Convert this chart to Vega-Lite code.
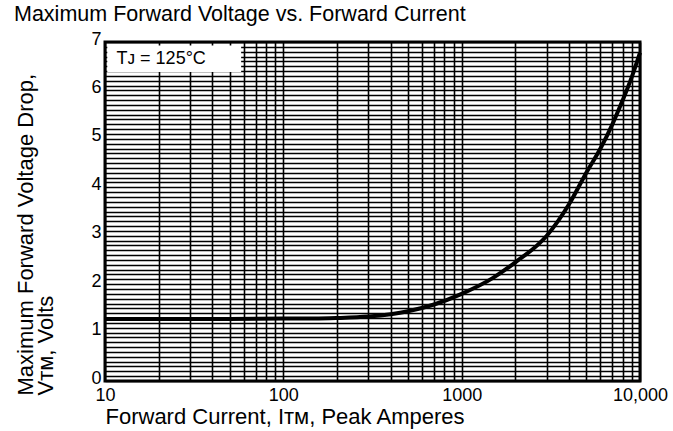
{
  "$schema": "https://vega.github.io/schema/vega-lite/v6.json",
  "width": 535,
  "height": 339,
  "autosize": {"type": "none"},
  "padding": {"left": 105, "top": 42, "right": 33, "bottom": 50},
  "background": "white",
  "config": {
    "font": "Liberation Sans",
    "view": {"stroke": "black", "strokeWidth": 3}
  },
  "title": {
    "text": "Maximum Forward Voltage vs. Forward Current",
    "anchor": "start",
    "fontSize": 21.5,
    "fontWeight": "normal",
    "color": "black",
    "baseline": "bottom",
    "offset": 14,
    "dy": 31
  },
  "datasets": {
    "curve": [
      {"current": 10, "voltage": 1.28},
      {"current": 20, "voltage": 1.28},
      {"current": 50, "voltage": 1.28},
      {"current": 100, "voltage": 1.29},
      {"current": 150, "voltage": 1.29},
      {"current": 200, "voltage": 1.3},
      {"current": 300, "voltage": 1.33},
      {"current": 400, "voltage": 1.38},
      {"current": 500, "voltage": 1.44},
      {"current": 700, "voltage": 1.58},
      {"current": 1000, "voltage": 1.8},
      {"current": 1500, "voltage": 2.13},
      {"current": 2000, "voltage": 2.45},
      {"current": 3000, "voltage": 3.0},
      {"current": 4000, "voltage": 3.65},
      {"current": 5000, "voltage": 4.3},
      {"current": 6000, "voltage": 4.8},
      {"current": 7000, "voltage": 5.3},
      {"current": 8000, "voltage": 5.8},
      {"current": 9000, "voltage": 6.28},
      {"current": 10000, "voltage": 6.78}
    ],
    "box": [
      {"x1": 10.3, "x2": 58, "y1": 6.38, "y2": 6.93, "label": "Tᴊ = 125°C", "tx": 11.6, "ty": 6.655}
    ]
  },
  "encoding": {},
  "layer": [
    {
      "data": {"name": "curve"},
      "mark": {"type": "line", "color": "black", "strokeWidth": 4, "interpolate": "monotone"},
      "encoding": {
        "x": {
          "field": "current",
          "type": "quantitative",
          "scale": {"type": "log", "domain": [10, 10000], "nice": false},
          "axis": {
            "values": [10,20,30,40,50,60,70,80,90,100,200,300,400,500,600,700,800,900,1000,2000,3000,4000,5000,6000,7000,8000,9000,10000],
            "tickCount": 100,
            "labelExpr": "datum.value == 10 ? '10' : datum.value == 100 ? '100' : datum.value == 1000 ? '1000' : datum.value == 10000 ? '10,000' : ''",
            "labelOverlap": false,
            "grid": true,
            "gridColor": "black",
            "gridOpacity": 1,
            "gridWidth": 1.6,
            "ticks": false,
            "domain": false,
            "labelFontSize": 18,
            "labelColor": "black",
            "labelPadding": 5,
            "labelFlush": false,
            "title": "Forward Current, Iᴛᴍ, Peak Amperes",
            "titleFontSize": 22,
            "titleFontWeight": "normal",
            "titleColor": "black",
            "titleAnchor": "start",
            "titleAlign": "left",
            "titlePadding": 2
          }
        },
        "y": {
          "field": "voltage",
          "type": "quantitative",
          "scale": {"domain": [0, 7], "nice": false},
          "axis": {
            "values": [0,0.1,0.2,0.3,0.4,0.5,0.6,0.7,0.8,0.9,1,1.1,1.2,1.3,1.4,1.5,1.6,1.7,1.8,1.9,2,2.1,2.2,2.3,2.4,2.5,2.6,2.7,2.8,2.9,3,3.1,3.2,3.3,3.4,3.5,3.6,3.7,3.8,3.9,4,4.1,4.2,4.3,4.4,4.5,4.6,4.7,4.8,4.9,5,5.1,5.2,5.3,5.4,5.5,5.6,5.7,5.8,5.9,6,6.1,6.2,6.3,6.4,6.5,6.6,6.7,6.8,6.9,7],
            "tickCount": 200,
            "labelExpr": "datum.value % 1 === 0 ? format(datum.value, 'd') : ''",
            "labelOverlap": false,
            "grid": true,
            "gridColor": "black",
            "gridOpacity": 1,
            "gridWidth": 1.4,
            "ticks": false,
            "domain": false,
            "labelFontSize": 18,
            "labelColor": "black",
            "labelPadding": 4,
            "labelFlush": false,
            "labelOffset": -3,
            "title": ["Maximum Forward Voltage Drop,", "Vᴛᴍ, Volts"],
            "titleFontSize": 22,
            "titleFontWeight": "normal",
            "titleColor": "black",
            "titleAnchor": "start",
            "titleAlign": "left",
            "titleAngle": -90,
            "titleX": -68,
            "titleY": 353,
            "titleLineHeight": 20
          }
        }
      }
    },
    {
      "data": {"name": "box"},
      "mark": {"type": "rect", "color": "white"},
      "encoding": {
        "x": {"field": "x1", "type": "quantitative"},
        "x2": {"field": "x2"},
        "y": {"field": "y1", "type": "quantitative"},
        "y2": {"field": "y2"}
      }
    },
    {
      "data": {"name": "box"},
      "mark": {"type": "text", "align": "left", "baseline": "middle", "fontSize": 18, "color": "black"},
      "encoding": {
        "x": {"field": "tx", "type": "quantitative"},
        "y": {"field": "ty", "type": "quantitative"},
        "text": {"field": "label"}
      }
    }
  ]
}
